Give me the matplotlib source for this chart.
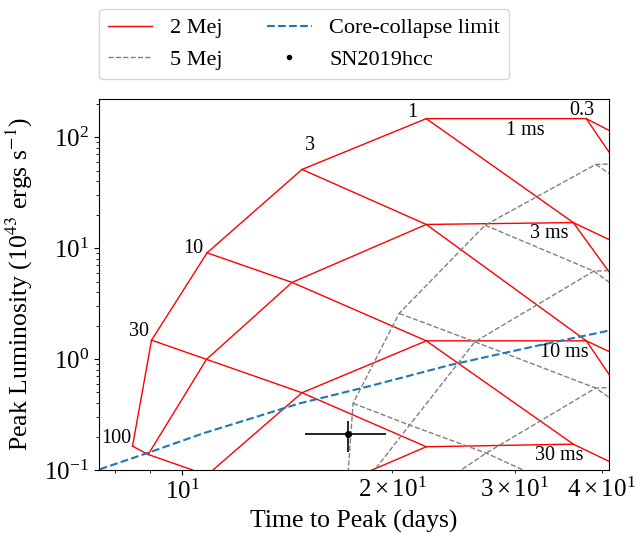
import numpy as np
import matplotlib
matplotlib.use("Agg")
import matplotlib.pyplot as plt
from matplotlib.lines import Line2D

plt.rcParams["font.family"] = ["Liberation Serif", "DejaVu Serif"]
plt.rcParams["mathtext.fontset"] = "stix"

nan = np.nan

# magnetar grid, rows = spin period (ms), columns = B field (1e14 G)
periods = [1, 3, 10, 30]
bfields = [100, 30, 10, 3, 1, 0.3, 0.1]

# 2 Mej grid: time to peak (days) and peak luminosity (1e43 erg/s)
t_2mej = np.array([
    [8.49, 9.04, 10.86, 14.86, 22.4, 38.0, 54.7],
    [8.94, 10.84, 14.38, 22.4, 36.4, 54.7, nan],
    [10.86, 14.86, 22.4, 38.0, 54.7, nan, nan],
    [14.38, 22.4, 36.4, 54.7, nan, nan, nan],
])
L_2mej = np.array([
    [0.164, 1.48, 9.07, 51.2, 147, 147, 45.2],
    [0.138, 0.994, 4.91, 16.35, 17.0, 5.05, nan],
    [0.09, 0.497, 1.46, 1.46, 0.5, nan, nan],
    [0.049, 0.162, 0.171, 0.05, nan, nan, nan],
])

# 5 Mej grid
t_5mej = np.array([
    [17.15, 17.59, 20.48, 27.2, 39.2, 65.0, nan],
    [16.58, 21.2, 26.3, 38.96, 65.0, nan, nan],
    [18.27, 27.3, 39.2, 65.0, nan, nan, nan],
    [nan, 39.2, 65.0, nan, nan, nan, nan],
])
L_5mej = np.array([
    [0.044, 0.399, 2.58, 16.1, 56.8, 62.0, nan],
    [0.035, 0.254, 1.43, 6.21, 6.9, nan, nan],
    [0.026, 0.142, 0.548, 0.6, nan, nan, nan],
    [nan, 0.05, 0.06, nan, nan, nan, nan],
])

# core-collapse limit
cc_t = [7.62, 8.94, 10.72, 14.75, 18.59, 24.22, 32.6, 40.85, 42.0]
cc_L = [0.1015, 0.143, 0.214, 0.399, 0.571, 0.883, 1.336, 1.80, 1.86]

# SN2019hcc
sn_t, sn_terr = 17.3, 2.3
sn_L, sn_Lerr = 0.21, 0.065

# labels on the grid
b_labels = ["100", "30", "10", "3", "1", "0.3"]
b_label_t = [8.05, 8.68, 10.36, 15.25, 21.4, 37.5]
b_label_L = [0.192, 1.77, 9.9, 84.7, 166, 175]
p_labels = ["1 ms", "3 ms", "10 ms", "30 ms"]
p_label_t = [31.1, 33.6, 35.3, 34.8]
p_label_L = [115.6, 13.5, 1.14, 0.136]


def draw_grid(ax, t, L, style):
    # constant period lines
    for i in range(t.shape[0]):
        m = ~np.isnan(t[i])
        ax.plot(t[i][m], L[i][m], **style)
    # constant field lines
    for j in range(t.shape[1]):
        m = ~np.isnan(t[:, j])
        if m.sum() > 1:
            ax.plot(t[:, j][m], L[:, j][m], **style)


fig = plt.figure(figsize=(6.35, 5.36), dpi=100)
ax = fig.add_axes([99 / 635, 66 / 536, 510.3 / 635, 371 / 536])

red = dict(color="red", lw=1.0, ls="-")
grey = dict(color="grey", lw=1.0, ls="--")
draw_grid(ax, t_2mej, L_2mej, red)
draw_grid(ax, t_5mej, L_5mej, grey)
ax.plot(cc_t, cc_L, color="C0", ls="--", lw=1.5)
ax.errorbar(sn_t, sn_L, xerr=sn_terr, yerr=sn_Lerr, fmt="k.", ms=8,
            elinewidth=1.2)

for s, x, y in zip(b_labels, b_label_t, b_label_L):
    ax.text(x, y, s, fontsize=14.5, ha="center", va="center")
for s, x, y in zip(p_labels, p_label_t, p_label_L):
    ax.text(x, y, s, fontsize=14.5, ha="center", va="center")

ax.set_xscale("log")
ax.set_yscale("log")
ax.set_xlim(7.6, 41.0)
ax.set_ylim(0.1, 221)
ax.tick_params(which="both", labelsize=18)
ax.set_xlabel("Time to Peak (days)", fontsize=18.5)
ax.set_ylabel("Peak Luminosity (10$^{43}$ ergs s$^{-1}$)", fontsize=18.5)
ax.yaxis.set_label_coords(-0.125, 0.5)

handles = [
    Line2D([], [], label="2 Mej", **red),
    Line2D([], [], label="5 Mej", **grey),
    Line2D([], [], color="C0", ls="--", lw=1.5, label="Core-collapse limit"),
    Line2D([], [], color="k", marker=".", ls="none", ms=6, label="SN2019hcc"),
]
ax.legend(handles=handles, loc="lower left", bbox_to_anchor=(0, 1.054),
          ncol=2, fontsize=16, borderaxespad=0, columnspacing=2.0)

fig.savefig("out.png", dpi=100)
